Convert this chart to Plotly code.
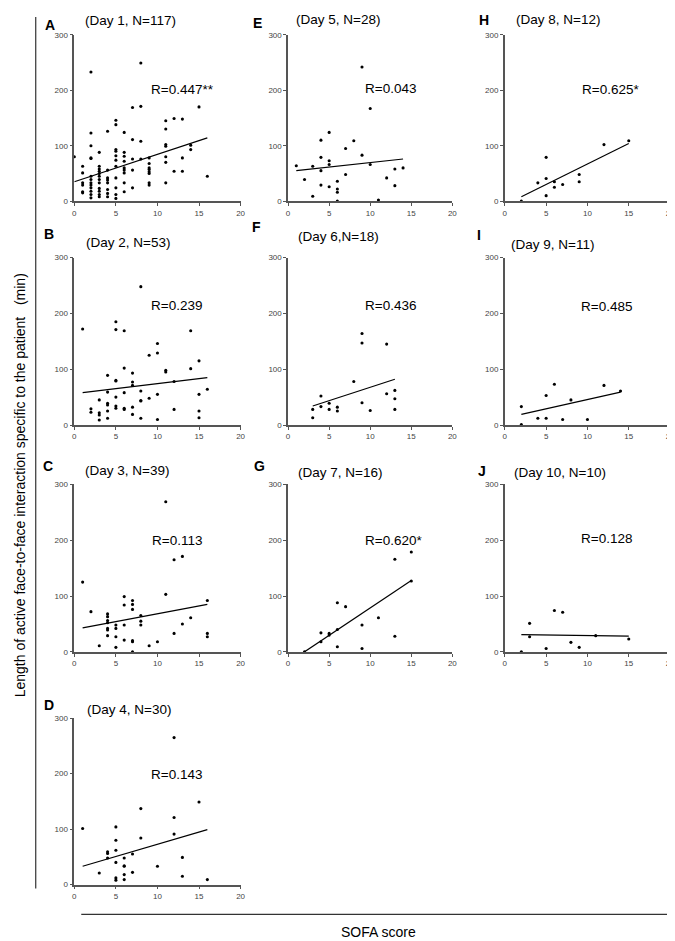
import plotly.graph_objects as go

W, H = 675, 941

# ---------------- data ----------------
panel_letters = ["A", "B", "C", "D", "E", "F", "G", "H", "I", "J"]
panel_titles = ["(Day 1, N=117)", "(Day 2, N=53)", "(Day 3, N=39)", "(Day 4, N=30)",
                "(Day 5, N=28)", "(Day 6,N=18)", "(Day 7, N=16)",
                "(Day 8, N=12)", "(Day 9, N=11)", "(Day 10, N=10)"]
r_labels = ["R=0.447**", "R=0.239", "R=0.113", "R=0.143", "R=0.043",
            "R=0.436", "R=0.620*", "R=0.625*", "R=0.485", "R=0.128"]

x_ticks = [0, 5, 10, 15, 20]
y_ticks = [0, 100, 200, 300]

day1_sofa = [0,
             1, 1, 1, 1, 1, 1,
             2, 2, 2, 2, 2, 2, 2, 2, 2, 2, 2, 2, 2,
             3, 3, 3, 3, 3, 3, 3, 3, 3, 3, 3, 3,
             4, 4, 4, 4, 4, 4, 4, 4,
             5, 5, 5, 5, 5, 5, 5, 5, 5, 5, 5,
             6, 6, 6, 6, 6, 6, 6, 6, 6,
             7, 7, 7, 7, 7,
             8, 8, 8, 8,
             9, 9, 9, 9, 9, 9, 9, 9,
             11, 11, 11, 11, 11, 11, 11,
             12, 12,
             13, 13, 13,
             14, 14,
             15,
             16]
day1_minutes = [80,
                63, 51, 33, 29, 17, 15,
                233, 123, 100, 78, 77, 45, 39, 33, 29, 24, 18, 12, 6,
                88, 63, 58, 54, 50, 45, 39, 33, 23, 18, 12, 8,
                126, 56, 42, 38, 33, 21, 14, 8,
                146, 138, 93, 90, 82, 74, 63, 42, 24, 12, 5,
                124, 88, 81, 72, 60, 56, 51, 33, 17,
                169, 111, 76, 56, 24,
                249, 171, 108, 76,
                78, 68, 60, 57, 53, 50, 33, 29,
                145, 130, 102, 99, 80, 70, 33,
                149, 54,
                148, 78, 54,
                101, 93,
                170,
                45]
day1_fit_sofa = [0, 16]
day1_fit_minutes = [35, 114]

day2_sofa = [1, 2, 2, 3, 3, 3, 3, 4, 4, 4, 4, 4, 4, 5, 5, 5, 5, 5, 5, 5,
             6, 6, 6, 6, 6, 7, 7, 7, 7, 7, 8, 8, 8, 8, 8, 9, 9, 10, 10, 10, 10,
             11, 11, 12, 12, 14, 14, 15, 15, 15, 15, 16]
day2_minutes = [172, 29, 23, 45, 22, 18, 9, 89, 59, 39, 36, 25, 12, 185, 171, 80, 79, 50, 34, 30,
                169, 102, 58, 30, 28, 93, 77, 71, 32, 19, 248, 61, 44, 43, 12, 125, 48, 146, 129, 55, 10,
                98, 95, 78, 28, 169, 101, 115, 55, 25, 13, 64]
day2_fit_sofa = [1, 16]
day2_fit_minutes = [58, 85]

day3_sofa = [1, 2, 3, 4, 4, 4, 4, 4, 4, 4, 5, 5, 5, 5, 6, 6, 6, 6, 7, 7, 7, 7, 7, 7,
             8, 8, 8, 9, 10, 11, 11, 12, 12, 13, 13, 14, 16, 16, 16]
day3_minutes = [125, 72, 11, 68, 63, 56, 52, 42, 39, 29, 48, 42, 27, 8, 99, 84, 48, 21, 92, 85, 76, 20, 18, 0,
                65, 55, 48, 11, 18, 269, 103, 165, 33, 171, 50, 61, 92, 33, 27]
day3_fit_sofa = [1, 16]
day3_fit_minutes = [43, 85]

day4_sofa = [1, 3, 4, 4, 4, 5, 5, 5, 5, 5, 5, 6, 6, 6, 6, 6, 7, 7, 8, 8, 10, 12, 12, 12, 13, 13, 15, 16]
day4_minutes = [101, 21, 59, 56, 48, 104, 80, 62, 40, 12, 8, 48, 34, 33, 18, 9, 55, 22, 137, 84, 33,
                265, 121, 91, 49, 15, 149, 9]
day4_fit_sofa = [1, 16]
day4_fit_minutes = [33, 99]

day5_sofa = [1, 2, 3, 3, 4, 4, 4, 4, 5, 5, 5, 5, 6, 6, 6, 6, 7, 7, 8, 9, 9, 10, 10, 11, 12, 13, 13, 14]
day5_minutes = [64, 39, 9, 63, 110, 79, 55, 29, 124, 73, 66, 26, 36, 22, 16, 0, 95, 48, 109, 242, 83,
                167, 66, 2, 42, 58, 28, 60]
day5_fit_sofa = [1, 14]
day5_fit_minutes = [55, 76]

day6_sofa = [3, 3, 4, 4, 5, 5, 6, 6, 8, 9, 9, 9, 10, 12, 12, 13, 13, 13]
day6_minutes = [13, 28, 52, 33, 39, 28, 32, 25, 78, 164, 147, 40, 26, 145, 56, 62, 47, 28]
day6_fit_sofa = [3, 13]
day6_fit_minutes = [34, 82]

day7_sofa = [2, 4, 4, 5, 5, 6, 6, 6, 7, 9, 9, 11, 13, 13, 15, 15]
day7_minutes = [0, 34, 18, 33, 30, 88, 40, 9, 81, 48, 6, 61, 166, 28, 179, 127]
day7_fit_sofa = [2, 15]
day7_fit_minutes = [0, 128]

day8_sofa = [2, 4, 5, 5, 5, 6, 6, 7, 9, 9, 12, 15]
day8_minutes = [0, 33, 79, 41, 10, 35, 25, 30, 48, 35, 102, 109]
day8_fit_sofa = [2, 15]
day8_fit_minutes = [8, 104]

day9_sofa = [2, 2, 4, 5, 5, 6, 7, 8, 10, 12, 14]
day9_minutes = [33, 1, 12, 53, 12, 73, 10, 45, 10, 71, 61]
day9_fit_sofa = [2, 14]
day9_fit_minutes = [19, 59]

day10_sofa = [2, 3, 3, 5, 6, 7, 8, 9, 11, 15]
day10_minutes = [0, 51, 27, 6, 74, 71, 17, 8, 29, 23]
day10_fit_sofa = [2, 15]
day10_fit_minutes = [31, 28]

sofa_by_panel = [day1_sofa, day2_sofa, day3_sofa, day4_sofa, day5_sofa,
                 day6_sofa, day7_sofa, day8_sofa, day9_sofa, day10_sofa]
minutes_by_panel = [day1_minutes, day2_minutes, day3_minutes, day4_minutes, day5_minutes,
                    day6_minutes, day7_minutes, day8_minutes, day9_minutes, day10_minutes]
fit_sofa_by_panel = [day1_fit_sofa, day2_fit_sofa, day3_fit_sofa, day4_fit_sofa, day5_fit_sofa,
                     day6_fit_sofa, day7_fit_sofa, day8_fit_sofa, day9_fit_sofa, day10_fit_sofa]
fit_minutes_by_panel = [day1_fit_minutes, day2_fit_minutes, day3_fit_minutes, day4_fit_minutes,
                        day5_fit_minutes, day6_fit_minutes, day7_fit_minutes, day8_fit_minutes,
                        day9_fit_minutes, day10_fit_minutes]

# ---------------- layout geometry (pixels) ----------------
panel_col = [0, 0, 0, 0, 1, 1, 1, 2, 2, 2]
panel_row = [0, 1, 2, 3, 0, 1, 2, 0, 1, 2]
col_px = [(65, 233), (281, 447), (500, 667)]
row_px = [(23, 191), (248, 417), (477, 646), (713, 881)]
title_pos = [(74, 9), (75, 233), (74, 463), (76, 704), (287, 8),
             (289, 227), (289, 465), (509, 8), (504, 235), (507, 465)]
letter_pos = [(40, 13), (39, 224), (38, 458), (39, 700), (250, 11),
              (249, 217), (252, 458), (479, 8), (474, 225), (477, 463)]
r_pos = [(13.0, 202), (12.3, 215), (12.3, 200), (12.3, 198), (12.5, 204),
         (12.5, 215), (12.8, 200), (12.8, 201), (12.3, 213), (12.3, 203)]


def fx(px):
    return px / W


def fy(py):
    return 1 - py / H


FONT = "Arial, Liberation Sans, Helvetica, sans-serif"
AXIS_COLOR = "#555555"

fig = go.Figure()
annotations = []
layout_axes = {}

for i in range(10):
    n = i + 1
    xa = "x" if n == 1 else f"x{n}"
    ya = "y" if n == 1 else f"y{n}"
    c0, c1 = col_px[panel_col[i]]
    r0, r1 = row_px[panel_row[i]]

    fig.add_trace(go.Scatter(
        x=sofa_by_panel[i], y=minutes_by_panel[i], mode="markers",
        marker=dict(color="black", size=3.1, symbol="circle"),
        xaxis=xa, yaxis=ya, cliponaxis=False, showlegend=False, hoverinfo="skip"))
    fig.add_trace(go.Scatter(
        x=fit_sofa_by_panel[i], y=fit_minutes_by_panel[i], mode="lines",
        line=dict(color="black", width=1.2),
        xaxis=xa, yaxis=ya, cliponaxis=False, showlegend=False, hoverinfo="skip"))

    common = dict(showgrid=False, zeroline=False, showline=True, linecolor=AXIS_COLOR,
                  linewidth=1.5, ticks="outside", ticklen=3, tickwidth=1,
                  tickcolor=AXIS_COLOR, tickfont=dict(size=8, color="#444444", family=FONT),
                  fixedrange=True)
    layout_axes["xaxis" if n == 1 else f"xaxis{n}"] = dict(
        domain=[fx(c0), fx(c1)], range=[0, 20], tickmode="array", tickvals=x_ticks,
        anchor=ya, **common)
    layout_axes["yaxis" if n == 1 else f"yaxis{n}"] = dict(
        domain=[fy(r1), fy(r0)], range=[0, 300], tickmode="array", tickvals=y_ticks,
        anchor=xa, **common)

    tx, ty = title_pos[i]
    annotations.append(dict(text=panel_titles[i], xref="paper", yref="paper",
                            x=fx(tx), y=fy(ty), xanchor="left", yanchor="middle",
                            showarrow=False, font=dict(size=13.5, color="black", family=FONT)))
    lx, ly = letter_pos[i]
    annotations.append(dict(text=f"<b>{panel_letters[i]}</b>", xref="paper", yref="paper",
                            x=fx(lx), y=fy(ly), xanchor="center", yanchor="middle",
                            showarrow=False, font=dict(size=14, color="black", family=FONT)))
    rx, ry = r_pos[i]
    annotations.append(dict(text=r_labels[i], xref=xa, yref=ya, x=rx, y=ry,
                            xanchor="center", yanchor="middle", showarrow=False,
                            font=dict(size=13.5, color="black", family=FONT)))

annotations.append(dict(
    text="Length of active face-to-face interaction specific to the patient&nbsp;&nbsp;&nbsp;(min)",
    xref="paper", yref="paper", x=fx(11), y=fy(478), textangle=-90,
    xanchor="center", yanchor="middle", showarrow=False,
    font=dict(size=14, color="black", family="Liberation Sans Narrow, Arial Narrow, " + FONT)))
annotations.append(dict(text="SOFA score", xref="paper", yref="paper", x=fx(372), y=fy(929),
                        xanchor="center", yanchor="middle", showarrow=False,
                        font=dict(size=14, color="black", family=FONT)))

shapes = [
    dict(type="line", xref="paper", yref="paper", x0=fx(26), x1=fx(26), y0=fy(5), y1=fy(885),
         line=dict(color="#333333", width=1.2)),
    dict(type="line", xref="paper", yref="paper", x0=fx(72), x1=fx(666), y0=fy(911), y1=fy(911),
         line=dict(color="#333333", width=1.2)),
]

fig.update_layout(width=W, height=H, margin=dict(l=0, r=0, t=0, b=0),
                  paper_bgcolor="white", plot_bgcolor="white",
                  annotations=annotations, shapes=shapes, **layout_axes)

fig.write_html("out.html")
